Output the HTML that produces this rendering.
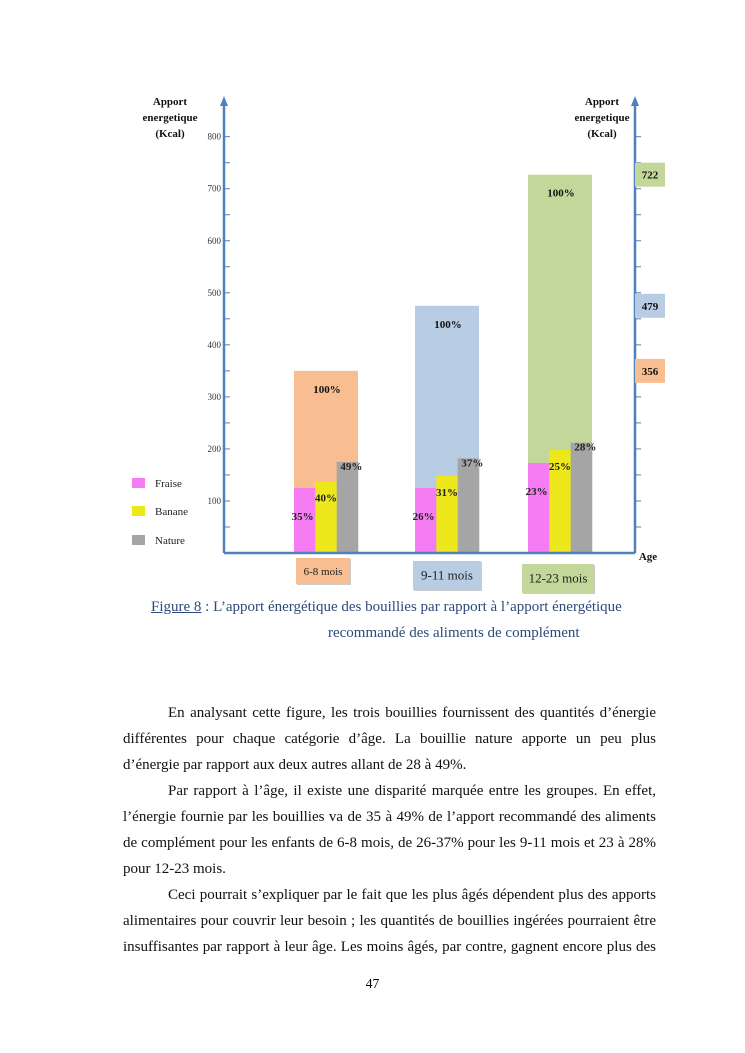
<!DOCTYPE html>
<html><head><meta charset="utf-8">
<style>
body{margin:0;background:#fff;width:745px;height:1053px;overflow:hidden;position:relative;font-family:"Liberation Serif",serif;}
.cap{position:absolute;color:#2d4a7a;font-size:15px;white-space:nowrap}
.body{position:absolute;left:123px;width:533px;top:700px;font-size:15px;line-height:26px;color:#111}
.body div{text-align:justify;text-align-last:justify;white-space:nowrap;height:26px}
.body div.i{padding-left:45px}
.body div.l{text-align-last:left}
.pn{position:absolute;left:0;width:745px;text-align:center;top:976px;font-size:13.5px}
</style></head><body>
<svg width="745" height="600" style="position:absolute;left:0;top:0" font-family="Liberation Serif, serif">
<g id="g"></g>
</svg>
<div class="cap" style="left:151px;top:599px"><u>Figure 8</u> : L’apport énergétique des bouillies par rapport à l’apport énergétique</div>
<div class="cap" style="left:328px;top:625px">recommandé des aliments de complément</div>
<div class="body">
<div class="i">En analysant cette figure, les trois bouillies fournissent des quantités d’énergie</div>
<div>différentes pour chaque catégorie d’âge. La bouillie nature apporte un peu plus</div>
<div class="l">d’énergie par rapport aux deux autres allant de 28 à 49%.</div>
<div class="i">Par rapport à l’âge, il existe une disparité marquée entre les groupes. En effet,</div>
<div>l’énergie fournie par les bouillies va de 35 à 49% de l’apport recommandé des aliments</div>
<div>de complément pour les enfants de 6-8 mois, de 26-37% pour les 9-11 mois et 23 à 28%</div>
<div class="l">pour 12-23 mois.</div>
<div class="i">Ceci pourrait s’expliquer par le fait que les plus âgés dépendent plus des apports</div>
<div>alimentaires pour couvrir leur besoin ; les quantités de bouillies ingérées pourraient être</div>
<div>insuffisantes par rapport à leur âge. Les moins âgés, par contre, gagnent encore plus des</div>
</div>
<div class="pn">47</div>
<script>
const categories=["6-8 mois","9-11 mois","12-23 mois"];
const totals=[350,475,727];
const totalLabels=["356","479","722"];
const fraise=[125,125,173];
const banane=[137,148,198];
const nature=[175,182,212];
const fraisePct=["35%","26%","23%"];
const bananePct=["40%","31%","25%"];
const naturePct=["49%","37%","28%"];
const yTicks=[100,200,300,400,500,600,700,800];

const NS="http://www.w3.org/2000/svg";
const g=document.getElementById('g');
const X0=224,XR=635,Y0=553,K=0.5204;
const y=v=>Y0-v*K;
const groupX=[294,415,528];
const GW=64;
const bg=["#f8bd90","#b8cce4","#c4d79b"];
function el(t,a,txt){const e=document.createElementNS(NS,t);for(const k in a)e.setAttribute(k,a[k]);if(txt!=null)e.textContent=txt;g.appendChild(e);return e;}
const blue="#4f81bd";
let e;
e=el('line',{x1:X0,y1:y(0),x2:X0,y2:104,stroke:blue,'stroke-width':2.5});

e=el('polygon',{points:`${X0-4},106 ${X0+4},106 ${X0},96`,fill:blue});

e=el('line',{x1:XR,y1:y(0),x2:XR,y2:104,stroke:blue,'stroke-width':2.5});

e=el('polygon',{points:`${XR-4},106 ${XR+4},106 ${XR},96`,fill:blue});

for(let v=50;v<=800;v+=50){
 e=el('line',{x1:X0,y1:y(v),x2:X0+6,y2:y(v),stroke:blue,'stroke-width':1});
 
 e=el('line',{x1:XR,y1:y(v),x2:XR+6,y2:y(v),stroke:blue,'stroke-width':1});
 
}
yTicks.forEach(v=>{e=el('text',{x:221,y:y(v)+3,'font-size':9,'text-anchor':'end',fill:'#333'},String(v));
 });
[[170,'left-axis-title'],[602,'right-axis-title']].forEach(([cx,n])=>{
 ["Apport","energetique","(Kcal)"].forEach((s,i)=>{e=el('text',{x:cx,y:105+i*16,'font-size':11,'font-weight':'bold','text-anchor':'middle',fill:'#111'},s);
 });
});
const sw=GW/3;
categories.forEach((c,i)=>{
 const x=groupX[i];
 e=el('rect',{x:x,y:y(totals[i]),width:GW,height:totals[i]*K,fill:bg[i]});
 
 e=el('text',{x:x+GW/2+1,y:y(totals[i])+22,'font-size':11,'font-weight':'bold','text-anchor':'middle',fill:'#111'},'100%');
 
 [[fraise,'#f57cf2','fraise',fraisePct,-2,32],[banane,'#ede81c','banane',bananePct,0,20],[nature,'#a5a5a5','nature',naturePct,4,8]].forEach(([arr,col,n,pct,dx,dy],j)=>{
  e=el('rect',{x:x+j*sw,y:y(arr[i]),width:sw+0.3,height:arr[i]*K,fill:col});
  
  e=el('text',{x:x+j*sw+sw/2+dx,y:y(arr[i])+dy,'font-size':11,'font-weight':'bold','text-anchor':'middle',fill:'#222'},pct[i]);
  
 });
 e=el('rect',{x:XR,y:y(totals[i])-12,width:30,height:24,fill:bg[i]});
 
 e=el('text',{x:XR+15,y:y(totals[i])+4,'font-size':11,'font-weight':'bold','text-anchor':'middle',fill:'#111'},totalLabels[i]);
 
});
e=el('line',{x1:X0,y1:Y0,x2:XR,y2:Y0,stroke:blue,'stroke-width':2.5});

const cb=[[296,558,54,26],[413,561,68,29],[522,564,72,29]];
categories.forEach((c,i)=>{const [bx,by,bw,bh]=cb[i];
 e=el('rect',{x:bx+1,y:by+1,width:bw,height:bh,fill:'#ccc'});
 
 e=el('rect',{x:bx,y:by,width:bw,height:bh,fill:bg[i]});
 
 e=el('text',{x:bx+bw/2,y:by+bh/2+4,'font-size':i==0?11:13,'text-anchor':'middle',fill:'#222'},c);
 
});
e=el('text',{x:648,y:560,'font-size':11,'font-weight':'bold','text-anchor':'middle',fill:'#111'},'Age');

[["Fraise","#f57cf2",478],["Banane","#ede81c",506],["Nature","#a5a5a5",535]].forEach(([t,c,ly])=>{
 e=el('rect',{x:132,y:ly,width:13,height:10,fill:c});
 
 e=el('text',{x:155,y:ly+9,'font-size':11,fill:'#222'},t);
 
});
</script>
</body></html>
